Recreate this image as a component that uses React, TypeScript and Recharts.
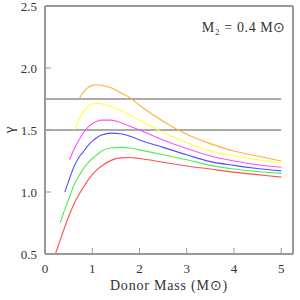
import { LineChart, Line, XAxis, YAxis, ReferenceLine } from "recharts";

// donor mass grid (Msun)
const mass = [0.22, 0.32, 0.42, 0.52, 0.62, 0.72, 0.8, 0.9, 1.0, 1.1, 1.2, 1.4, 1.6, 1.8, 2.0, 2.5, 3.0, 3.5, 4.0, 4.5, 5.0];

// gamma curves (null = curve not started yet)
const redGamma = [0.5, 0.61, 0.72, 0.82, 0.91, 0.98, 1.03, 1.09, 1.14, 1.18, 1.21, 1.255, 1.275, 1.278, 1.27, 1.24, 1.21, 1.185, 1.16, 1.14, 1.12];
const greenGamma = [null, 0.75, 0.86, 0.96, 1.06, 1.13, 1.18, 1.23, 1.27, 1.3, 1.33, 1.355, 1.36, 1.355, 1.34, 1.3, 1.26, 1.215, 1.185, 1.165, 1.15];
const blueGamma = [null, null, 1.0, 1.11, 1.21, 1.28, 1.32, 1.37, 1.41, 1.44, 1.46, 1.475, 1.47, 1.45, 1.42, 1.36, 1.3, 1.245, 1.215, 1.19, 1.17];
const magentaGamma = [null, null, null, 1.26, 1.35, 1.42, 1.47, 1.52, 1.55, 1.57, 1.58, 1.58, 1.56, 1.53, 1.5, 1.42, 1.35, 1.29, 1.25, 1.22, 1.2];
const yellowGamma = [null, null, null, null, 1.5, 1.58, 1.64, 1.69, 1.71, 1.715, 1.71, 1.69, 1.66, 1.62, 1.58, 1.48, 1.4, 1.33, 1.29, 1.26, 1.23];
const orangeGamma = [null, null, null, null, null, 1.75, 1.8, 1.84, 1.86, 1.865, 1.86, 1.84, 1.8, 1.76, 1.7, 1.57, 1.465, 1.39, 1.33, 1.29, 1.25];

// horizontal reference levels
const levels = [1.75, 1.5];

const data = mass.map((m, i) => ({
  m,
  red: redGamma[i],
  green: greenGamma[i],
  blue: blueGamma[i],
  magenta: magentaGamma[i],
  yellow: yellowGamma[i],
  orange: orangeGamma[i],
}));

const series = [
  { key: "red", color: "#ff5050" },
  { key: "green", color: "#50ee50" },
  { key: "blue", color: "#5050ff" },
  { key: "magenta", color: "#ff50ff" },
  { key: "yellow", color: "#ffff40" },
  { key: "orange", color: "#ffb040" },
];

const xMinor = Array.from({ length: 53 }, (_, i) => i / 10);
const xMajor = [0, 1, 2, 3, 4, 5];
const yMinor = Array.from({ length: 21 }, (_, i) => (5 + i) / 10);
const yMajor = [0.5, 1.0, 1.5, 2.0, 2.5];

const AXIS = "#999999";
const FONT = "'Liberation Serif', serif";

// negative tickSize draws the ticks inward
const MAJOR = -6;
const MINOR = -3.5;

const XLabel = (props: any) => (
  <text x={props.x} y={Number(props.y) + 25} textAnchor="middle" fontSize={13} fontFamily={FONT} fill="#333">
    {String(props.payload.value)}
  </text>
);

const YLabel = (props: any) => (
  <text x={Number(props.x) - 14} y={Number(props.y) + 4.5} textAnchor="end" fontSize={13} fontFamily={FONT} fill="#333">
    {Number(props.payload.value).toFixed(1)}
  </text>
);

const base = {
  interval: 0 as const,
  tickMargin: 0,
  stroke: AXIS,
  allowDataOverflow: true,
  type: "number" as const,
};

const xBase = { ...base, dataKey: "m", domain: [0, 5.25] };
const yBase = { ...base, domain: [0.5, 2.5] };
const tickStyle = { stroke: AXIS, strokeWidth: 1 };
const lineStyle = { stroke: AXIS, strokeWidth: 2 };

export default function App() {
  return (
    <div style={{ position: "absolute", left: 0, top: 0, width: 300, height: 300, background: "#fff" }}>
      <LineChart width={300} height={300} data={data} margin={{ top: 4, right: 5, bottom: 25, left: 0 }}>
        {/* bottom: major with labels, minor ticks only */}
        <XAxis {...xBase} xAxisId="b" ticks={xMajor} height={20} tickSize={MAJOR} tickLine={tickStyle} axisLine={lineStyle} tick={XLabel} />
        <XAxis {...xBase} xAxisId="b2" ticks={xMinor} height={1} tickSize={MINOR} tickLine={tickStyle} axisLine={false} tick={false} />
        {/* top */}
        <XAxis {...xBase} xAxisId="t" orientation="top" ticks={xMajor} height={1} tickSize={MAJOR} tickLine={tickStyle} axisLine={lineStyle} tick={false} />
        <XAxis {...xBase} xAxisId="t2" orientation="top" ticks={xMinor} height={1} tickSize={MINOR} tickLine={tickStyle} axisLine={false} tick={false} />
        {/* left */}
        <YAxis {...yBase} yAxisId="l" ticks={yMajor} width={44} tickSize={MAJOR} tickLine={tickStyle} axisLine={lineStyle} tick={YLabel} />
        <YAxis {...yBase} yAxisId="l2" ticks={yMinor} width={1} tickSize={MINOR} tickLine={tickStyle} axisLine={false} tick={false} />
        {/* right */}
        <YAxis {...yBase} yAxisId="r" orientation="right" ticks={yMajor} width={1} tickSize={MAJOR} tickLine={tickStyle} axisLine={lineStyle} tick={false} />
        <YAxis {...yBase} yAxisId="r2" orientation="right" ticks={yMinor} width={1} tickSize={MINOR} tickLine={tickStyle} axisLine={false} tick={false} />
        {levels.map((lv) => (
          <ReferenceLine
            key={lv}
            xAxisId="b"
            yAxisId="l"
            segment={[
              { x: 0, y: lv },
              { x: 5, y: lv },
            ]}
            stroke="#aaaaaa"
            strokeWidth={2}
          />
        ))}
        {series.map((s) => (
          <Line
            key={s.key}
            xAxisId="b"
            yAxisId="l"
            dataKey={s.key}
            type="monotone"
            stroke={s.color}
            strokeWidth={1.1}
            dot={false}
            activeDot={false}
            isAnimationActive={false}
          />
        ))}
      </LineChart>
      <div
        style={{
          position: "absolute",
          left: 6,
          top: 130,
          transform: "translate(0, -50%) rotate(-90deg)",
          fontFamily: FONT,
          fontSize: 15,
          color: "#333",
        }}
      >
        γ
      </div>
      <div
        style={{
          position: "absolute",
          left: 0,
          width: 338,
          top: 279,
          lineHeight: "14px",
          textAlign: "center",
          fontFamily: FONT,
          fontSize: 14,
          letterSpacing: 0.8,
          color: "#333",
        }}
      >
        Donor Mass (M⊙)
      </div>
      <div
        style={{
          position: "absolute",
          right: 14,
          top: 19,
          fontFamily: FONT,
          fontSize: 14,
          letterSpacing: 0.6,
          color: "#333",
          whiteSpace: "nowrap",
        }}
      >
        M₂ = 0.4 M⊙
      </div>
    </div>
  );
}
